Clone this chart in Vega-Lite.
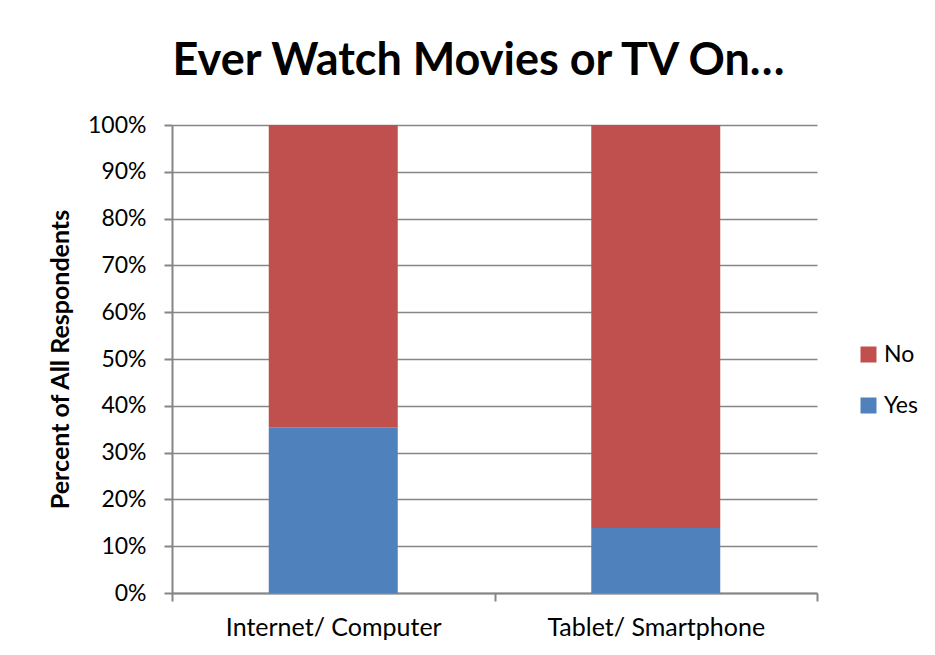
{
  "$schema": "https://vega.github.io/schema/vega-lite/v6.json",
  "width": 645,
  "height": 468,
  "autosize": {"type": "none"},
  "padding": {"left": 172, "top": 125, "right": 118, "bottom": 62},
  "background": "white",
  "title": {
    "text": "Ever Watch Movies or TV On…",
    "font": "Lato",
    "fontSize": 45,
    "fontWeight": "bold",
    "color": "#000000",
    "anchor": "middle",
    "baseline": "alphabetic",
    "offset": -6,
    "dx": -16
  },
  "data": {
    "values": [
      {"Device": "Internet/ Computer", "Response": "Yes", "Share": 0.354},
      {"Device": "Internet/ Computer", "Response": "No", "Share": 0.646},
      {"Device": "Tablet/ Smartphone", "Response": "Yes", "Share": 0.139},
      {"Device": "Tablet/ Smartphone", "Response": "No", "Share": 0.861}
    ]
  },
  "mark": {"type": "bar", "width": {"band": 0.4}},
  "encoding": {
    "x": {
      "field": "Device",
      "type": "nominal",
      "sort": null,
      "scale": {"paddingInner": 0, "paddingOuter": 0},
      "axis": {
        "title": null,
        "labelAngle": 0,
        "labelFont": "Lato",
        "labelFontSize": 25,
        "labelColor": "#000000",
        "labelPadding": 14,
        "labelLimit": 0,
        "tickBand": "extent",
        "tickSize": 8,
        "tickWidth": 2,
        "tickColor": "#868686",
        "domainColor": "#868686",
        "domainWidth": 2,
        "grid": false
      }
    },
    "y": {
      "field": "Share",
      "type": "quantitative",
      "stack": "zero",
      "scale": {"domain": [0, 1], "nice": false},
      "axis": {
        "title": "Percent of All Respondents",
        "titleFont": "Lato",
        "titleFontSize": 25,
        "titleFontWeight": "bold",
        "titleColor": "#000000",
        "titlePadding": 14,
        "format": ".0%",
        "values": [0, 0.1, 0.2, 0.3, 0.4, 0.5, 0.6, 0.7, 0.8, 0.9, 1.0],
        "labelFont": "Lato",
        "labelFontSize": 23,
        "labelColor": "#000000",
        "labelPadding": 18,
        "tickSize": 8,
        "tickWidth": 2,
        "tickColor": "#868686",
        "domainColor": "#868686",
        "domainWidth": 2,
        "grid": true,
        "gridColor": "#868686",
        "gridWidth": 1.5
      }
    },
    "color": {
      "field": "Response",
      "type": "nominal",
      "scale": {"domain": ["No", "Yes"], "range": ["#C0504D", "#4F81BD"]},
      "legend": {
        "title": null,
        "orient": "none",
        "legendX": 685,
        "legendY": 218,
        "symbolType": "square",
        "symbolSize": 256,
        "symbolStrokeWidth": 0,
        "symbolOpacity": 1,
        "labelFont": "Lato",
        "labelFontSize": 23,
        "labelColor": "#000000",
        "labelOffset": 4,
        "rowPadding": 27,
        "padding": 0
      }
    },
    "order": {"field": "Response", "sort": "descending"}
  },
  "config": {
    "view": {"stroke": null}
  }
}
